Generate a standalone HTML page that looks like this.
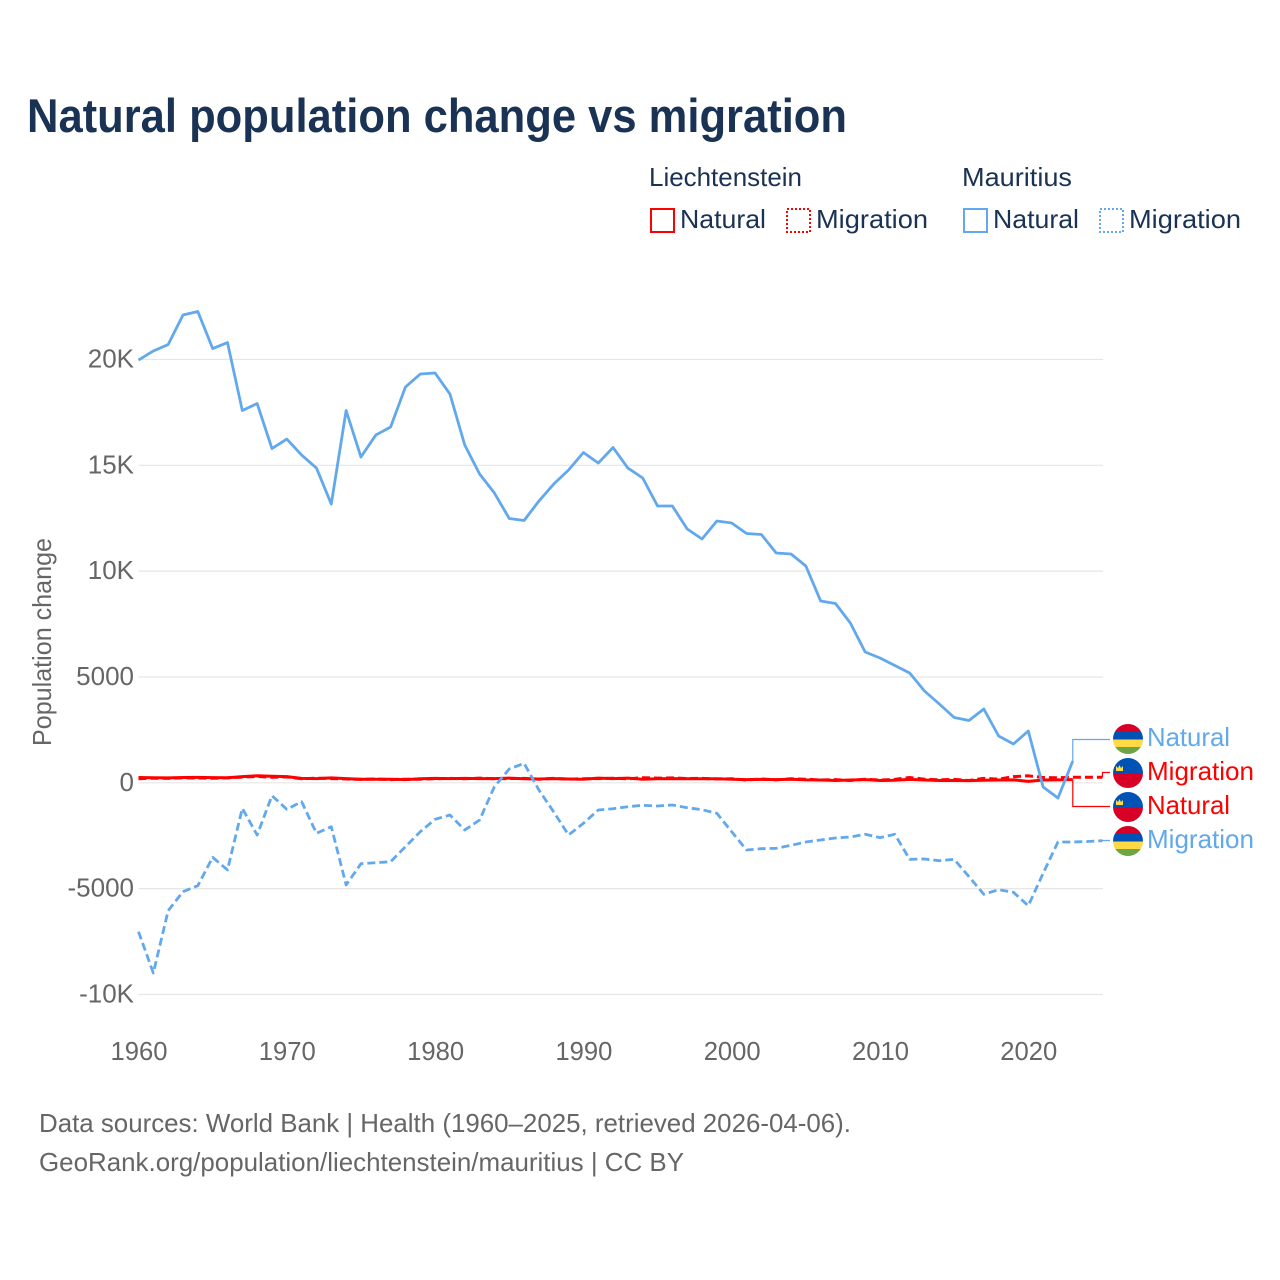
<!DOCTYPE html>
<html lang="en">
<head>
<meta charset="utf-8">
<title>Natural population change vs migration</title>
<style>
html,body{margin:0;padding:0;background:#fff;}
svg{display:block;font-family:"Liberation Sans",sans-serif;}
.leg{font-size:26px;fill:#1a3254;}
.tick{font-size:26px;fill:#666;}
.src{font-size:26px;fill:#666;}
.end{font-size:26px;}
</style>
</head>
<body>
<svg id="chart" xmlns="http://www.w3.org/2000/svg" width="1280" height="1280" viewBox="0 0 1280 1280">
  <defs>
    <clipPath id="flag-clip-1"><circle cx="1128" cy="739" r="15"/></clipPath>
    <clipPath id="flag-clip-2"><circle cx="1128" cy="773" r="15"/></clipPath>
    <clipPath id="flag-clip-3"><circle cx="1128" cy="807" r="15"/></clipPath>
    <clipPath id="flag-clip-4"><circle cx="1128" cy="841" r="15"/></clipPath>
  </defs>
  <rect width="1280" height="1280" fill="#fff"/>
  <text x="27" y="132" font-size="47" font-weight="700" fill="#1a3254" textLength="820" lengthAdjust="spacingAndGlyphs">Natural population change vs migration</text>

  <g>
    <text class="leg" x="649" y="186" textLength="153" lengthAdjust="spacingAndGlyphs">Liechtenstein</text>
    <text class="leg" x="962" y="186" textLength="110" lengthAdjust="spacingAndGlyphs">Mauritius</text>
    <rect x="651" y="209" width="23" height="23" fill="none" stroke="#ff0000" stroke-width="2"/>
    <text class="leg" x="680" y="228" textLength="86" lengthAdjust="spacingAndGlyphs">Natural</text>
    <rect x="787" y="209" width="23" height="23" fill="none" stroke="#ff0000" stroke-width="2" stroke-dasharray="2,2"/>
    <text class="leg" x="816" y="228" textLength="112" lengthAdjust="spacingAndGlyphs">Migration</text>
    <rect x="964" y="209" width="23" height="23" fill="none" stroke="#62a8ec" stroke-width="2"/>
    <text class="leg" x="993" y="228" textLength="86" lengthAdjust="spacingAndGlyphs">Natural</text>
    <rect x="1100" y="209" width="23" height="23" fill="none" stroke="#62a8ec" stroke-width="2" stroke-dasharray="2,2"/>
    <text class="leg" x="1129" y="228" textLength="112" lengthAdjust="spacingAndGlyphs">Migration</text>
  </g>

  <text class="tick" transform="translate(51,746) rotate(-90)" textLength="208" lengthAdjust="spacingAndGlyphs">Population change</text>

  <g id="grid"></g>
  <g id="yticks"></g>
  <g id="xticks"></g>
  <g id="connectors"></g>
  <g id="series"></g>

  <g>
    <g>
      <circle cx="1128" cy="739" r="16" fill="#fff"/>
      <g clip-path="url(#flag-clip-1)">
        <rect x="1113" y="724" width="30" height="8" fill="#d80027"/>
        <rect x="1113" y="732" width="30" height="7.5" fill="#0052b4"/>
        <rect x="1113" y="739.5" width="30" height="7.5" fill="#ffda44"/>
        <rect x="1113" y="747" width="30" height="8" fill="#6da544"/>
      </g>
    </g>
    <text class="end" x="1147" y="746" fill="#62a8ec" textLength="83" lengthAdjust="spacingAndGlyphs">Natural</text>

    <g>
      <circle cx="1128" cy="773" r="16" fill="#fff"/>
      <g clip-path="url(#flag-clip-2)">
        <rect x="1113" y="758" width="30" height="15" fill="#0052b4"/>
        <rect x="1113" y="773" width="30" height="15" fill="#d80027"/>
      </g>
      <path d="M1116 771v-5l2 2 1.5-3 1.5 3 2-2v5z" fill="#ffda44"/>
    </g>
    <text class="end" x="1147" y="780" fill="#ff0000" textLength="107" lengthAdjust="spacingAndGlyphs">Migration</text>

    <g>
      <circle cx="1128" cy="807" r="16" fill="#fff"/>
      <g clip-path="url(#flag-clip-3)">
        <rect x="1113" y="792" width="30" height="15" fill="#0052b4"/>
        <rect x="1113" y="807" width="30" height="15" fill="#d80027"/>
      </g>
      <path d="M1116 805v-5l2 2 1.5-3 1.5 3 2-2v5z" fill="#ffda44"/>
    </g>
    <text class="end" x="1147" y="814" fill="#ff0000" textLength="83" lengthAdjust="spacingAndGlyphs">Natural</text>

    <g>
      <circle cx="1128" cy="841" r="16" fill="#fff"/>
      <g clip-path="url(#flag-clip-4)">
        <rect x="1113" y="826" width="30" height="8" fill="#d80027"/>
        <rect x="1113" y="834" width="30" height="7.5" fill="#0052b4"/>
        <rect x="1113" y="841.5" width="30" height="7.5" fill="#ffda44"/>
        <rect x="1113" y="849" width="30" height="8" fill="#6da544"/>
      </g>
    </g>
    <text class="end" x="1147" y="848" fill="#62a8ec" textLength="107" lengthAdjust="spacingAndGlyphs">Migration</text>
  </g>

  <text class="src" x="39" y="1132" textLength="812" lengthAdjust="spacingAndGlyphs">Data sources: World Bank | Health (1960–2025, retrieved 2026-04-06).</text>
  <text class="src" x="39" y="1171" textLength="645" lengthAdjust="spacingAndGlyphs">GeoRank.org/population/liechtenstein/mauritius | CC BY</text>
</svg>

<script>
const startYear = 1960;
const xTickYears = [1960, 1970, 1980, 1990, 2000, 2010, 2020];
const yTickValues = [20000, 15000, 10000, 5000, 0, -5000, -10000];
const yTickLabels = ["20K", "15K", "10K", "5000", "0", "-5000", "-10K"];

const mauritiusNatural = [
  19970, 20400, 20705, 22100, 22265, 20517, 20800, 17588, 17918, 15792,
  16241, 15485, 14871, 13170, 17588, 15391, 16430, 16808, 18698, 19312,
  19359, 18367, 15958, 14588, 13690, 12486, 12391, 13312, 14115, 14777,
  15603, 15107, 15840, 14871, 14399, 13076, 13076, 11990, 11517, 12368,
  12273, 11777, 11730, 10856, 10809, 10242, 8588, 8470, 7549, 6179,
  5896, 5541, 5187, 4337, 3723, 3085, 2943, 3486, 2211, 1833,
  2447, -198, -718, 1030
];
const mauritiusMigration = [
  -7034, -8985, -6042, -5145, -4861, -3519, -4119, -1205, -2466, -609,
  -1252, -893, -2386, -2074, -4828, -3822, -3775, -3727, -3019, -2310,
  -1724, -1521, -2230, -1757, -184, 652, 921, -340, -1379, -2466,
  -1913, -1285, -1224, -1129, -1063, -1096, -1049, -1176, -1271, -1441,
  -2310, -3175, -3113, -3094, -2953, -2797, -2702, -2608, -2560, -2433,
  -2593, -2433, -3614, -3600, -3680, -3614, -4436, -5267, -5050, -5173,
  -5806, -4275, -2797, -2797, -2773, -2735
];
const liechtensteinNatural = [
  250, 240, 230, 250, 255, 245, 240, 290, 330, 310,
  290, 210, 200, 230, 200, 170, 170, 165, 150, 190,
  210, 200, 210, 200, 200, 220, 190, 180, 195, 180,
  170, 220, 200, 220, 170, 190, 200, 190, 190, 190,
  170, 150, 160, 150, 170, 140, 130, 110, 130, 150,
  110, 120, 160, 130, 110, 110, 100, 120, 130, 140,
  70, 130, 140, 150
];
const liechtensteinMigration = [
  190, 220, 210, 235, 225, 215, 230, 270, 300, 260,
  280, 190, 220, 200, 180, 160, 180, 150, 170, 170,
  190, 210, 190, 220, 190, 200, 210, 170, 210, 170,
  190, 200, 215, 190, 240, 220, 230, 200, 210, 180,
  190, 130, 180, 140, 190, 170, 130, 150, 110, 170,
  130, 160, 250, 170, 140, 160, 110, 210, 170, 290,
  330, 250, 240, 260, 260, 260
];

const svgNS = "http://www.w3.org/2000/svg";
const chartLeft = 138.5;
const chartRight = 1103;
const pxPerYear = 14.83;
const zeroY = 782.8;
const pxPerUnit = 0.021167;
const blue = "#62a8ec";
const red = "#ff0000";

function xScale(year) { return chartLeft + (year - startYear) * pxPerYear; }
function yScale(value) { return zeroY - value * pxPerUnit; }
function linePath(values) {
  return values.map(function (v, i) {
    return (i ? "L" : "M") + xScale(startYear + i).toFixed(2) + " " + yScale(v).toFixed(2);
  }).join("");
}
function make(tag, parentId, attrs, text) {
  const el = document.createElementNS(svgNS, tag);
  Object.keys(attrs).forEach(function (k) { el.setAttribute(k, attrs[k]); });
  if (text !== undefined) el.textContent = text;
  document.getElementById(parentId).appendChild(el);
  return el;
}

yTickValues.forEach(function (v, i) {
  const g = make("line", "grid", {x1: chartLeft, x2: chartRight, y1: yScale(v), y2: yScale(v), stroke: "#e6e6e6", "stroke-width": 1.2});
  
  
  const t = make("text", "yticks", {x: 134, y: yScale(v) + 8, "text-anchor": "end", "class": "tick"}, yTickLabels[i]);
  
  
});

xTickYears.forEach(function (yr) {
  const t = make("text", "xticks", {x: xScale(yr) + 0.5, y: 1060, "text-anchor": "middle", "class": "tick", textLength: 57, lengthAdjust: "spacingAndGlyphs"}, String(yr));
  
  
});

function connector(values, labelY, color, name) {
  const endX = xScale(startYear + values.length - 1);
  const endY = yScale(values[values.length - 1]);
  const c = make("path", "connectors", {d: "M" + endX + " " + endY + "V" + labelY + "H1110", fill: "none", stroke: color, "stroke-width": 1.2});
  
  
}
connector(mauritiusNatural, 739.5, blue, 'connector-mauritius-natural');
connector(liechtensteinMigration, 772.5, red, 'connector-liechtenstein-migration');
connector(liechtensteinNatural, 806.5, red, 'connector-liechtenstein-natural');
connector(mauritiusMigration, 840.5, blue, 'connector-mauritius-migration');

const lnLine = make("path", "series", {d: linePath(liechtensteinNatural), fill: "none", stroke: red, "stroke-width": 3, "stroke-linejoin": "round"});


const lmLine = make("path", "series", {d: linePath(liechtensteinMigration), fill: "none", stroke: red, "stroke-width": 3, "stroke-dasharray": "8,4", "stroke-linejoin": "round"});


const mnLine = make("path", "series", {d: linePath(mauritiusNatural), fill: "none", stroke: blue, "stroke-width": 2.8, "stroke-linejoin": "round"});


const mmLine = make("path", "series", {d: linePath(mauritiusMigration), fill: "none", stroke: blue, "stroke-width": 2.8, "stroke-dasharray": "8,4", "stroke-linejoin": "round"});


</script>
</body>
</html>
